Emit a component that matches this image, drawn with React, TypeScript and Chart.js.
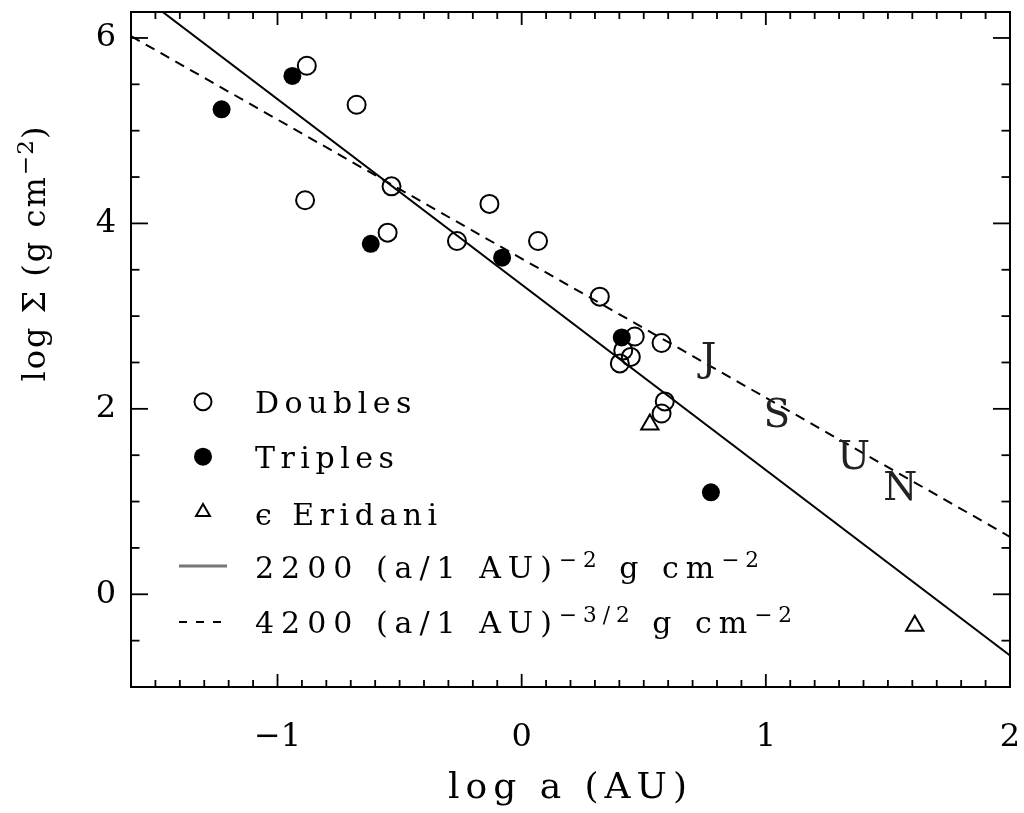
import React, { useEffect, useRef } from "react";
import { Chart, registerables } from "chart.js";
Chart.register(...registerables);

// ---- data ----
const doublesX = [-0.880, -0.676, -0.533, -0.887, -0.549, -0.132, -0.265, 0.067, 0.320, 0.463, 0.573, 0.416, 0.447, 0.402, 0.586, 0.573];
const doublesY = [5.70, 5.28, 4.40, 4.25, 3.90, 4.21, 3.81, 3.81, 3.21, 2.78, 2.71, 2.63, 2.56, 2.49, 2.08, 1.95];
const triplesX = [-0.939, -1.229, -0.618, -0.080, 0.410, 0.775];
const triplesY = [5.59, 5.23, 3.78, 3.63, 2.77, 1.10];
const eridaniX = [0.525, 1.610];
const eridaniY = [1.83, -0.34];
const solidLineX = [-1.6, 2.0];
const solidLineY = [6.54, -0.66];
const dashedLineX = [-1.6, 2.0];
const dashedLineY = [6.02, 0.62];
const planetLabels = ["J", "S", "U", "N"];
const planetX = [0.765, 1.045, 1.360, 1.551];
const planetY = [2.56, 1.96, 1.50, 1.17];
const xTickValues = [-1, 0, 1, 2];
const yTickValues = [0, 2, 4, 6];
const xRange = [-1.6, 2.0];
const yRange = [-1.0, 6.28];

type Part = { t: string; sup?: boolean };
const legendRows: Part[][] = [
  [{ t: "Doubles" }],
  [{ t: "Triples" }],
  [{ t: "ϵ Eridani" }],
  [{ t: "2200 (a/1 AU)" }, { t: "−2", sup: true }, { t: " g cm" }, { t: "−2", sup: true }],
  [{ t: "4200 (a/1 AU)" }, { t: "−3/2", sup: true }, { t: " g cm" }, { t: "−2", sup: true }],
];
const xTitle: Part[] = [{ t: "log a (AU)" }];
const yTitle: Part[] = [{ t: "log Σ (g cm" }, { t: "−2", sup: true }, { t: ")" }];

const FONT = '"DejaVu Serif", "Liberation Serif", serif';

function setFont(ctx: CanvasRenderingContext2D, size: number, spacing: number) {
  ctx.font = `${size}px ${FONT}`;
  (ctx as any).letterSpacing = `${spacing}px`;
}

function drawRich(
  ctx: CanvasRenderingContext2D,
  parts: Part[],
  x: number,
  y: number,
  size: number,
  spacing: number,
  align: "left" | "center",
  supSpacing: number = spacing * 0.6
) {
  const supSize = size * 0.72;
  const widths = parts.map((p) => {
    setFont(ctx, p.sup ? supSize : size, p.sup ? supSpacing : spacing);
    return ctx.measureText(p.t).width;
  });
  const total = widths.reduce((a, b) => a + b, 0);
  let cx = align === "center" ? x - total / 2 : x;
  ctx.textAlign = "left";
  ctx.textBaseline = "alphabetic";
  parts.forEach((p, i) => {
    setFont(ctx, p.sup ? supSize : size, p.sup ? supSpacing : spacing);
    ctx.fillText(p.t, cx, p.sup ? y - size * 0.37 : y);
    cx += widths[i];
  });
  (ctx as any).letterSpacing = "0px";
}

function triangle(ctx: CanvasRenderingContext2D, x: number, y: number, r: number) {
  ctx.beginPath();
  for (let k = 0; k < 3; k++) {
    const a = (k * 2 * Math.PI) / 3;
    const px = x + Math.sin(a) * r;
    const py = y - Math.cos(a) * r;
    if (k === 0) ctx.moveTo(px, py);
    else ctx.lineTo(px, py);
  }
  ctx.closePath();
  ctx.stroke();
}

const decorPlugin = {
  id: "decor",
  afterDraw(chart: any) {
    const ctx: CanvasRenderingContext2D = chart.ctx;
    const { left, right, top, bottom } = chart.chartArea;
    const xs = chart.scales.x;
    const ys = chart.scales.y;
    ctx.save();
    ctx.strokeStyle = "#000";
    ctx.fillStyle = "#000";
    ctx.lineWidth = 2;
    ctx.setLineDash([]);
    ctx.strokeRect(left, top, right - left, bottom - top);
    const seg = (x1: number, y1: number, x2: number, y2: number) => {
      ctx.beginPath();
      ctx.moveTo(x1, y1);
      ctx.lineTo(x2, y2);
      ctx.stroke();
    };
    ctx.lineWidth = 1.8;
    for (let i = Math.round(xRange[0] * 10); i <= Math.round(xRange[1] * 10); i++) {
      const px = xs.getPixelForValue(i / 10);
      const L = i % 10 === 0 ? 13 : 7;
      seg(px, bottom, px, bottom - L);
      seg(px, top, px, top + L);
    }
    for (let i = Math.round(yRange[0] * 2); i <= Math.floor(yRange[1] * 2); i++) {
      const py = ys.getPixelForValue(i / 2);
      const L = i % 4 === 0 ? 17 : 8.5;
      seg(left, py, left + L, py);
      seg(right, py, right - L, py);
    }

    // planet letters
    ctx.fillStyle = "#222";
    ctx.textAlign = "center";
    ctx.textBaseline = "alphabetic";
    ctx.font = `39px ${FONT}`;
    planetLabels.forEach((lab, i) => {
      const px = xs.getPixelForValue(planetX[i]);
      const py = ys.getPixelForValue(planetY[i]);
      ctx.fillText(lab, px, py + 39 * 0.36);
    });

    // axis titles
    ctx.fillStyle = "#000";
    drawRich(ctx, xTitle, (left + right) / 2, 798, 36, 6, "center");
    ctx.save();
    ctx.translate(45, 253);
    ctx.rotate(-Math.PI / 2);
    drawRich(ctx, yTitle, 0, 0, 32, 2, "center");
    ctx.restore();

    // legend
    const markX = 203;
    const textX = 255;
    const baselines = [413, 468, 525, 578, 633];
    ctx.lineWidth = 2;
    ctx.strokeStyle = "#000";
    ctx.beginPath();
    ctx.arc(markX, 401.7, 8.5, 0, Math.PI * 2);
    ctx.stroke();
    ctx.beginPath();
    ctx.arc(markX, 456.7, 9, 0, Math.PI * 2);
    ctx.fill();
    triangle(ctx, markX, 512, 8);
    ctx.strokeStyle = "#777";
    ctx.lineWidth = 3;
    seg(179, 566, 227, 566);
    ctx.strokeStyle = "#000";
    ctx.lineWidth = 2;
    ctx.setLineDash([8, 9]);
    seg(179, 622, 227, 622);
    ctx.setLineDash([]);
    legendRows.forEach((row, i) =>
      drawRich(ctx, row, textX, baselines[i], 30, i < 3 ? 5.5 : 7, "left", 6)
    );
    ctx.restore();
  },
};

const pts = (xs: number[], ys: number[]) => xs.map((x, i) => ({ x, y: ys[i] }));
const fmt = (v: number) => (v < 0 ? "−" + Math.abs(v) : String(v));

export default function App() {
  const ref = useRef<HTMLCanvasElement | null>(null);
  useEffect(() => {
    if (!ref.current) return;
    const chart = new Chart(ref.current, {
      type: "scatter",
      data: {
        datasets: [
          {
            label: "Doubles",
            data: pts(doublesX, doublesY),
            pointStyle: "circle",
            pointRadius: 9,
            pointBorderWidth: 2,
            pointBackgroundColor: "rgba(0,0,0,0)",
            pointBorderColor: "#000",
          },
          {
            label: "Triples",
            data: pts(triplesX, triplesY),
            pointStyle: "circle",
            pointRadius: 9,
            pointBorderWidth: 0,
            pointBackgroundColor: "#000",
            pointBorderColor: "#000",
          },
          {
            label: "ϵ Eridani",
            data: pts(eridaniX, eridaniY),
            pointStyle: "triangle",
            pointRadius: 10,
            pointBorderWidth: 2,
            pointBackgroundColor: "rgba(0,0,0,0)",
            pointBorderColor: "#000",
          },
          {
            label: "2200",
            data: pts(solidLineX, solidLineY),
            showLine: true,
            pointRadius: 0,
            borderColor: "#000",
            borderWidth: 2,
          },
          {
            label: "4200",
            data: pts(dashedLineX, dashedLineY),
            showLine: true,
            pointRadius: 0,
            borderColor: "#000",
            borderWidth: 2,
            borderDash: [10, 7],
          },
        ],
      } as any,
      options: {
        animation: false,
        responsive: false,
        devicePixelRatio: 1,
        layout: { padding: { top: 9, right: 14, left: 0, bottom: 0 } },
        plugins: { legend: { display: false }, tooltip: { enabled: false } },
        scales: {
          x: {
            type: "linear",
            min: xRange[0],
            max: xRange[1],
            grid: { display: false, drawTicks: false },
            border: { display: false },
            afterBuildTicks: (s: any) => {
              s.ticks = xTickValues.map((v) => ({ value: v }));
            },
            afterFit: (s: any) => {
              s.height = 126;
              s.paddingLeft = 0;
              s.paddingRight = 0;
            },
            ticks: {
              padding: 31,
              color: "#000",
              font: { family: FONT, size: 32 },
              maxRotation: 0,
              autoSkip: false,
              callback: (v: any) => fmt(Number(v)),
            },
          },
          y: {
            type: "linear",
            min: yRange[0],
            max: yRange[1],
            grid: { display: false, drawTicks: false },
            border: { display: false },
            afterBuildTicks: (s: any) => {
              s.ticks = yTickValues.map((v) => ({ value: v }));
            },
            afterFit: (s: any) => {
              s.width = 131;
              s.paddingTop = 0;
              s.paddingBottom = 0;
            },
            ticks: {
              padding: 15,
              color: "#000",
              font: { family: FONT, size: 32 },
              autoSkip: false,
              callback: (v: any) => fmt(Number(v)),
            },
          },
        },
      } as any,
      plugins: [decorPlugin],
    });
    return () => chart.destroy();
  }, []);
  return (
    <div style={{ position: "fixed", left: 0, top: 0, width: 1024, height: 813, background: "#fff" }}>
      <canvas ref={ref} width={1024} height={813} style={{ display: "block", width: 1024, height: 813 }} />
    </div>
  );
}
